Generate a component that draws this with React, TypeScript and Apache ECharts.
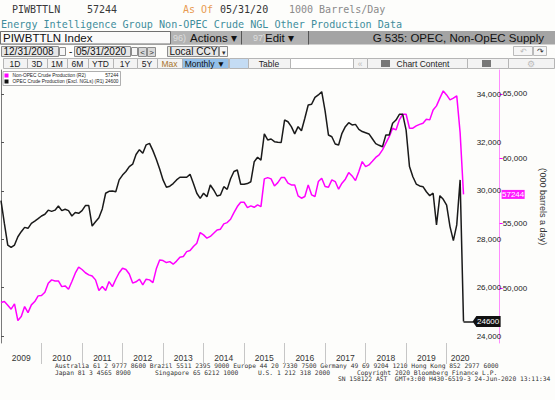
import React, { useEffect, useRef } from 'react';
import * as echarts from 'echarts';

// Month index 0 = Dec 2008 ... 137 = May 2020 (month-end values)
const startYear = 2009;
const years = [2009, 2010, 2011, 2012, 2013, 2014, 2015, 2016, 2017, 2018, 2019, 2020];

const opec = [
  29590, 28650, 27760, 27665, 27760, 28100, 28310, 28490, 28450, 28655,
  28750, 28850, 28960, 29030, 29200, 29150, 29200, 29370, 29180, 29235,
  29180, 28960, 29100, 29070, 29180, 29390, 29390, 28545, 28720, 28890,
  29250, 29900, 29980, 29990, 29960, 30450, 30650, 30800, 31000, 31100,
  31500, 31700, 31550, 31900, 31960, 31660, 31300, 30900, 30450, 30145,
  30190, 30300, 30450, 30560, 30560, 30560, 30680, 30300, 29900, 29690,
  29900, 29755, 30240, 30035, 29785, 29825, 30170, 30060, 30500, 30800,
  30860, 30270, 30270, 30300, 30375, 31200, 31385, 31270, 32350, 32100,
  32140, 32030, 32010, 32000, 32925, 32855, 32650, 32350, 32650, 32480,
  33000, 33545, 33575, 33860, 33960, 34095, 33300, 32305, 32235, 31935,
  31890, 32375, 32650, 32815, 32720, 32745, 32540, 32450, 32400, 32350,
  32150, 31950, 31880, 31820, 32305, 32305, 32790, 32925, 33160, 33160,
  32510, 31000, 30580, 30280, 30200, 30170, 29960, 29800, 29900, 28590,
  29800, 29650, 29410, 28520, 27940, 28590, 30450, 24600,
];

const nonOpec = [
  48900, 48975, 48700, 48390, 48800, 47510, 47820, 48590, 48125, 48720,
  48975, 49415, 49450, 49700, 50390, 50650, 50570, 50570, 50130, 50185,
  49930, 50520, 51165, 51630, 51450, 51200, 51035, 50950, 50650, 49830,
  50130, 49830, 50520, 50130, 50700, 51200, 51550, 51450, 51100, 50400,
  50500, 50700, 50260, 50700, 50650, 50440, 51500, 52190, 52140, 51985,
  52060, 51860, 52100, 52400, 52450, 52830, 52910, 53220, 53480, 54300,
  54120, 53865, 54000, 54250, 54500, 54560, 54970, 55070, 55330, 55840,
  56305, 56640, 56640, 56230, 56360, 56250, 56435, 56305, 58440, 58540,
  58440, 57900, 58155, 58540, 58540, 58110, 57980, 57980, 57130, 56950,
  57080, 57980, 57210, 57080, 58235, 58495, 57850, 57800, 58365, 58235,
  57645, 58110, 58420, 58930, 58670, 58310, 59005, 59775, 59390, 59520,
  59800, 60100, 60295, 60680, 61195, 61705, 62350, 62220, 62995, 63430,
  63430, 62350, 62350, 62530, 62650, 62740, 63045, 62995, 63765, 64075,
  64670, 65230, 64920, 64540, 64670, 64845, 62000, 57244,
];

const opecTicks = [24000, 26000, 28000, 30000, 32000, 34000];
const nonOpecTicks = [50000, 55000, 60000, 65000];

const nonOpecName = 'Non-OPEC Crude Production (R2)';
const opecName = 'OPEC Crude Production (Excl. NGLs) (R1)';

const X_MAX = 140;

const MONO = '"DejaVu Sans Mono", monospace';
const SANS = '"Liberation Sans", Arial, sans-serif';

function txt(text: string, x: number, y: number, fill: string, fontSize: number, fontFamily = SANS, align = 'left') {
  return {
    type: 'text',
    silent: true,
    style: { text, x, y, fill, fontSize, fontFamily, align, verticalAlign: 'middle' },
  };
}
function box(x: number, y: number, w: number, h: number, fill: string, stroke?: string) {
  return {
    type: 'rect',
    silent: true,
    shape: { x, y, width: w, height: h },
    style: { fill, stroke: stroke || 'none', lineWidth: stroke ? 1 : 0 },
  };
}
function vline(x: number, y1: number, y2: number, stroke: string) {
  return { type: 'line', silent: true, shape: { x1: x, y1, x2: x, y2 }, style: { stroke, lineWidth: 1 } };
}

export default function App() {
  const ref = useRef<HTMLDivElement>(null);

  useEffect(() => {
    if (!ref.current) return;
    const chart = echarts.init(ref.current, null, { renderer: 'svg' });

    const lastOpec = opec[opec.length - 1];
    const lastNon = nonOpec[nonOpec.length - 1];
    const lastIdx = opec.length - 1;

    const yearBoundaries = years.slice(1).map((y) => (y - startYear) * 12);
    const yearMids = years.map((y) => {
      const s = (y - startYear) * 12;
      const e = Math.min(s + 12, X_MAX);
      return (s + e) / 2;
    });

    // toolbar row 5 buttons
    const row5: any[] = [];
    const btns: [string, number, number, string, string][] = [
      ['1D', 3, 24, '#f3f3f3', '#222'],
      ['3D', 27, 20, '#f3f3f3', '#222'],
      ['1M', 47, 20, '#f3f3f3', '#222'],
      ['6M', 67, 21, '#f3f3f3', '#222'],
      ['YTD', 88, 25, '#f3f3f3', '#222'],
      ['1Y', 113, 24, '#f3f3f3', '#222'],
      ['5Y', 137, 20, '#f3f3f3', '#222'],
      ['Max', 157, 25, '#f3f3f3', '#a8742c'],
      ['Monthly \u25BC', 182, 46, '#93c0ea', '#111'],
      ['', 229, 19, '#c4dcf4', '#222'],
      ['Table', 248, 42, '#f3f3f3', '#222'],
      ['', 290, 63, '#ffffff', '#222'],
      ['\u00AB', 353, 14, '#f3f3f3', '#bbb'],
      ['Chart Content', 367, 100, '#f3f3f3', '#222'],
      ['', 467, 41, '#f3f3f3', '#222'],
      ['\u2699', 508, 46, '#f3f3f3', '#bbb'],
    ];
    btns.forEach(([t, x, w, fill, color]) => {
      row5.push(box(x + 0.5, 58.5, w, 10, fill, '#b5b5b5'));
      if (t) {
        const cx = t === 'Chart Content' ? x + w / 2 + 6 : x + w / 2;
        row5.push(txt(t, cx, 63.8, color, 8.5, SANS, 'center'));
      }
    });
    row5.push(box(381, 60, 9, 7, '#777'));
    row5.push(box(482, 60, 9, 7, '#777'));

    const graphic: any[] = [
      // Row 1
      txt('PIWBTTLN', 12, 9.5, '#3a3a3a', 10, MONO),
      txt('57244', 87, 9.5, '#3a3a3a', 10, MONO),
      txt('As Of', 183, 9.5, '#e89a50', 10, MONO),
      txt('05/31/20', 220, 9.5, '#333', 10, MONO),
      txt('1000 Barrels/Day', 289, 9.5, '#8a8a8a', 10, MONO),
      // Row 2
      txt('Energy Intelligence Group Non-OPEC Crude NGL Other Production Data', 1, 24, '#3f8d9c', 10.1, MONO),
      // Row 3
      box(0, 31, 555, 13.5, '#a4a4a4'),
      box(0.5, 31.5, 170, 12.5, '#fafafa', '#707070'),
      txt('PIWBTTLN Index', 3, 38, '#111', 11.5),
      box(171, 31, 70, 13.5, '#b3b3b3'),
      txt('96)', 173, 38, '#dedede', 9),
      txt('Actions \u25BE', 190, 38, '#111', 11.5),
      vline(241.5, 31, 44.5, '#555'),
      box(242, 31, 66, 13.5, '#b3b3b3'),
      txt('97)', 253, 38, '#dedede', 9),
      txt('Edit \u25BE', 265, 38, '#111', 11.5),
      vline(308.5, 31, 44.5, '#555'),
      txt('G 535: OPEC, Non-OpEC Supply', 544, 38, '#111', 11.5, SANS, 'right'),
      // Row 4
      box(1.5, 46.5, 57, 10, '#e6e6e6', '#8c8c8c'),
      txt('12/31/2008', 3.5, 51.8, '#111', 10),
      box(59.5, 47.5, 6, 8, '#f6f6f6', '#8c8c8c'),
      txt('-', 69, 51.5, '#111', 10),
      box(74.5, 46.5, 56, 10, '#e6e6e6', '#8c8c8c'),
      txt('05/31/2020', 76, 51.8, '#111', 10),
      box(131.5, 47.5, 6, 8, '#f6f6f6', '#8c8c8c'),
      box(138.5, 47.5, 8, 9, '#d8d8d8', '#8c8c8c'),
      txt('<', 142.5, 52, '#333', 8, SANS, 'center'),
      box(147.5, 47.5, 8, 9, '#d8d8d8', '#8c8c8c'),
      txt('>', 151.5, 52, '#333', 8, SANS, 'center'),
      box(167.5, 46.5, 51, 10, '#e6e6e6', '#8c8c8c'),
      txt('Local CCY', 169.5, 51.8, '#111', 10),
      box(219.5, 46.5, 8, 10, '#f6f6f6', '#8c8c8c'),
      txt('\u25BE', 223.5, 52, '#333', 7, SANS, 'center'),
      box(513.5, 46.5, 19, 9, '#f6f6f6', '#bbbbbb'),
      txt('\u21B6', 523, 51, '#bbb', 8, SANS, 'center'),
      box(533.5, 46.5, 13, 9, '#f6f6f6', '#bbbbbb'),
      txt('\u21B7', 540, 51, '#333', 8, SANS, 'center'),
      ...row5,
      // Footer
      txt('Australia 61 2 9777 8600 Brazil 5511 2395 9000 Europe 44 20 7330 7500 Germany 49 69 9204 1210 Hong Kong 852 2977 6000', 55, 365.5, '#333', 6.3, MONO),
      txt('Japan 81 3 4565 8900', 55, 372, '#333', 6.3, MONO),
      txt('Singapore 65 6212 1000', 155, 372, '#333', 6.3, MONO),
      txt('U.S. 1 212 318 2000', 258, 372, '#333', 6.3, MONO),
      txt('Copyright 2020 Bloomberg Finance L.P.', 357, 372, '#333', 6.3, MONO),
      txt('SN 158122 AST  GMT+3:00 H430-6519-3 24-Jun-2020 13:11:34', 338, 378.5, '#333', 6.3, MONO),
    ];

    const lastVals: Record<string, number> = {
      [nonOpecName]: lastNon,
      [opecName]: lastOpec,
    };

    chart.setOption({
      animation: false,
      backgroundColor: '#fdfdfb',
      textStyle: { fontFamily: SANS },
      grid: { left: 1, right: 68, top: 70, bottom: 57, containLabel: false },
      legend: {
        left: 3,
        top: 71.5,
        orient: 'vertical',
        icon: 'rect',
        itemWidth: 4,
        itemHeight: 4,
        itemGap: 1,
        padding: [1.5, 2, 1.5, 1.5],
        borderColor: '#9a9a9a',
        borderWidth: 0.8,
        backgroundColor: '#ffffff',
        data: [nonOpecName, opecName],
        textStyle: {
          fontSize: 4.8,
          color: '#222',
          padding: [0, 0, 0, -1],
          rich: {
            n: { fontSize: 4.8, width: 93, color: '#222', lineHeight: 6 },
            v: { fontSize: 4.8, width: 13, align: 'right', color: '#222', lineHeight: 6 },
          },
        },
        formatter: (name: string) => `{n|${name}}{v|${lastVals[name]}}`,
      },
      xAxis: {
        type: 'value',
        min: 0,
        max: X_MAX,
        position: 'bottom',
        splitLine: { show: false },
        axisLine: { show: false },
        axisTick: {
          show: true,
          customValues: yearBoundaries,
          length: 21,
          lineStyle: { color: '#c6c6c6', width: 1 },
        },
        axisLabel: {
          show: true,
          customValues: yearMids,
          formatter: (v: number) => String(startYear + Math.floor(v / 12)),
          fontSize: 8.5,
          color: '#333',
          margin: 10,
        },
      },
      yAxis: [
        {
          type: 'value',
          position: 'right',
          min: 23711,
          max: 34992,
          splitLine: { show: false },
          axisLine: { show: true, lineStyle: { color: '#7a7a7a', width: 1 } },
          axisTick: { show: true, customValues: opecTicks, length: 3, lineStyle: { color: '#555' } },
          axisLabel: { customValues: opecTicks, fontSize: 8, color: '#222', margin: 3 },
        },
        {
          type: 'value',
          position: 'right',
          offset: 26,
          min: 45779,
          max: 66844,
          splitLine: { show: false },
          axisLine: { show: true, lineStyle: { color: '#ff8cff', width: 1 } },
          axisTick: { show: true, customValues: nonOpecTicks, length: 3, lineStyle: { color: '#ff00ff' } },
          axisLabel: { customValues: nonOpecTicks, fontSize: 8, color: '#222', margin: 3 },
          name: "('000 barrels a day)",
          nameLocation: 'middle',
          nameRotate: -90,
          nameGap: 35,
          nameTextStyle: { fontSize: 9, color: '#333' },
        },
      ],
      series: [
        {
          name: nonOpecName,
          type: 'line',
          yAxisIndex: 1,
          showSymbol: false,
          clip: false,
          color: '#ff00ff',
          lineStyle: { color: '#ff00ff', width: 1.5 },
          data: nonOpec.map((v, i) => [i, v]),
          markPoint: {
            silent: true,
            symbol: 'rect',
            symbolSize: [23, 9],
            symbolOffset: [39.5, 0],
            itemStyle: { color: '#ff1aff' },
            label: { show: true, position: 'inside', color: '#fff', fontSize: 8, formatter: (p: any) => String(p.value) },
            data: [{ coord: [X_MAX, lastNon], value: lastNon }],
          },
        },
        {
          name: opecName,
          type: 'line',
          yAxisIndex: 0,
          showSymbol: false,
          clip: false,
          color: '#111111',
          lineStyle: { color: '#1a1a1a', width: 1.5 },
          data: opec.map((v, i) => [i, v]),
          markLine: {
            silent: true,
            symbol: ['none', 'none'],
            label: { show: false },
            lineStyle: { color: '#1a1a1a', width: 1.5, type: 'solid' },
            data: [[{ coord: [lastIdx, lastOpec] }, { coord: [X_MAX, lastOpec] }]],
          },
          markPoint: {
            silent: true,
            symbol: 'path://M0,5 L4,0 L30,0 L30,10 L4,10 Z',
            symbolSize: [28, 11],
            symbolOffset: [13, 0],
            itemStyle: { color: '#111' },
            label: { show: true, position: 'inside', color: '#fff', fontSize: 8, offset: [1.5, 0], formatter: (p: any) => String(p.value) },
            data: [{ coord: [X_MAX, lastOpec], value: lastOpec }],
          },
        },
      ],
      graphic,
    });

    return () => chart.dispose();
  }, []);

  return <div ref={ref} style={{ position: 'fixed', left: 0, top: 0, width: 555, height: 400 }} />;
}
